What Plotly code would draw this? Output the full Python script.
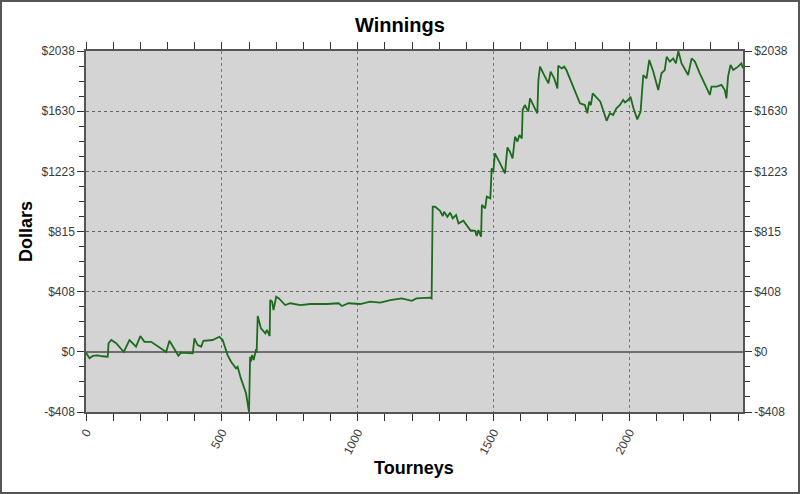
import plotly.graph_objects as go

tourneys = [0, 13, 25, 43, 60, 80, 83, 93, 111, 139, 160, 184, 200, 215, 240, 270, 295, 307, 319, 340,
            350, 393, 399, 411, 424, 432, 466, 491, 503, 521, 534, 552, 558, 570, 589, 600, 604, 607, 611, 617,
            626, 628, 632, 644, 660, 666, 676, 678, 685, 690, 700, 710, 733, 752, 789, 825, 887, 930, 942, 966,
            1009, 1046, 1083, 1120, 1162, 1199, 1216, 1267, 1272, 1276, 1285, 1303, 1313, 1318, 1330, 1340, 1350,
            1362, 1371, 1389, 1414, 1432, 1438, 1444, 1454, 1457, 1469, 1475, 1488, 1493, 1499, 1505, 1524, 1542,
            1551, 1560, 1570, 1579, 1588, 1595, 1604, 1607, 1615, 1628, 1634, 1646, 1661, 1665, 1671, 1683, 1702,
            1710, 1723, 1735, 1738, 1751, 1760, 1768, 1793, 1818, 1836, 1845, 1852, 1858, 1865, 1880, 1893, 1916,
            1928, 1940, 1952, 1965, 1977, 1984, 1995, 2004, 2014, 2029, 2041, 2051, 2063, 2073, 2088, 2106, 2118,
            2130, 2137, 2149, 2161, 2171, 2180, 2192, 2216, 2229, 2241, 2259, 2278, 2296, 2302, 2321, 2339, 2351,
            2357, 2363, 2372, 2382, 2400, 2412, 2418]
dollars = [-6, -44, -28, -24, -30, -33, 58, 80, 58, -1, 80, 35, 107, 68, 68, 30, -1, 75, 39, -26,
           -6, -10, 91, 46, 35, 75, 80, 102, 80, -22, -67, -112, -101, -180, -281, -408, -33, -67, -22, -55,
           17, -6, 243, 159, 125, 148, 107, 351, 340, 283, 373, 362, 317, 329, 317, 324, 324, 329, 310, 329,
           324, 340, 333, 351, 362, 346, 362, 367, 362, 983, 983, 956, 920, 949, 915, 943, 904,
           927, 870, 888, 825, 820, 784, 825, 780, 995, 972, 1051, 1040, 1243, 1220, 1345, 1277, 1209,
           1385, 1356, 1311, 1457, 1425, 1469, 1446, 1638, 1672, 1627, 1717, 1672, 1616, 1841, 1932, 1887, 1819,
           1898, 1853, 1785, 1938, 1920, 1932, 1909, 1796, 1683, 1672, 1616, 1695, 1672, 1751, 1717, 1695, 1565,
           1616, 1605, 1650, 1672, 1706, 1690, 1706, 1728, 1655, 1575, 1627, 1875, 1852, 1977, 1898, 1774, 1887,
           1909, 1999, 1966, 1988, 1954, 2038, 1954, 1875, 1988, 1966, 1887, 1808, 1740, 1796, 1796, 1808, 1774,
           1717, 1864, 1943, 1909, 1932, 1954, 1921]

y_tickvals = [-407.6, 0, 407.6, 815.2, 1222.8, 1630.4, 2038]
y_ticktext = ["-$408", "$0", "$408", "$815", "$1223", "$1630", "$2038"]
x_tickvals = [0, 500, 1000, 1500, 2000]
x_ticktext = ["0", "500", "1000", "1500", "2000"]

W, H = 800, 494
ML, MR, MT, MB = 86, 57, 51, 82
PW, PH = W - ML - MR, H - MT - MB

FONT = "Liberation Sans, Arial, sans-serif"
TICKCOL = "#3a3a3a"

fig = go.Figure()
fig.add_trace(go.Scatter(x=tourneys, y=dollars, mode="lines",
                         line=dict(color="#1d6b1d", width=1.8), showlegend=False, hoverinfo="x+y"))
fig.add_trace(go.Scatter(x=tourneys, y=dollars, mode="lines", yaxis="y2",
                         line=dict(color="rgba(0,0,0,0)", width=0), showlegend=False, hoverinfo="skip"))

yaxis_common = dict(
    range=[-407.6, 2038], tickmode="array", tickvals=y_tickvals, ticktext=y_ticktext,
    ticks="outside", ticklen=7, tickwidth=1, tickcolor="#333",
    tickfont=dict(family=FONT, size=12, color=TICKCOL),
    showline=True, linecolor="#555", linewidth=1.5,
    minor=dict(ticks="outside", ticklen=5, tickcolor="#333", tick0=0, dtick=101.9, showgrid=False),
    fixedrange=True,
)

fig.update_layout(
    width=W, height=H,
    margin=dict(l=ML, r=MR, t=MT, b=MB, pad=0),
    paper_bgcolor="white", plot_bgcolor="#d4d4d4",
    showlegend=False,
    xaxis=dict(
        range=[0, 2418], tickmode="array", tickvals=x_tickvals, ticktext=x_ticktext,
        tickangle=-62, ticks="outside", ticklen=7, tickcolor="#333",
        tickfont=dict(family=FONT, size=12, color=TICKCOL),
        showline=True, linecolor="#555", linewidth=1.5, mirror="allticks",
        showgrid=True, gridcolor="#777", griddash="dot", gridwidth=1,
        minor=dict(ticks="outside", ticklen=5, tickcolor="#333", tick0=0, dtick=100, showgrid=False),
        zeroline=False, fixedrange=True,
    ),
    yaxis=dict(**yaxis_common, side="left",
               showgrid=True, gridcolor="#666", griddash="dot", gridwidth=1,
               zeroline=True, zerolinecolor="#6e6e6e", zerolinewidth=1.6),
    yaxis2=dict(**yaxis_common, side="right", overlaying="y", showgrid=False, zeroline=False),
    annotations=[
        dict(text="<b>Winnings</b>", xref="paper", yref="paper",
             x=(400 - ML) / PW, y=(H - MB - 25) / PH, xanchor="center", yanchor="middle",
             showarrow=False, font=dict(family=FONT, size=20, color="black")),
        dict(text="<b>Dollars</b>", xref="paper", yref="paper",
             x=(26 - ML) / PW, y=(H - MB - 232) / PH, xanchor="center", yanchor="middle",
             textangle=-90, showarrow=False, font=dict(family=FONT, size=18, color="black")),
        dict(text="<b>Tourneys</b>", xref="paper", yref="paper",
             x=(414 - ML) / PW, y=(H - MB - 468) / PH, xanchor="center", yanchor="middle",
             showarrow=False, font=dict(family=FONT, size=18, color="black")),
    ],
    shapes=[
        dict(type="rect", xref="paper", yref="paper",
             x0=(1 - ML) / PW, x1=(W - 1 - ML) / PW,
             y0=(H - MB - (H - 1)) / PH, y1=(H - MB - 1) / PH,
             line=dict(color="#555", width=2), fillcolor="rgba(0,0,0,0)", layer="above"),
    ],
)

fig.write_html("out.html", config={"displayModeBar": False},
               post_script="document.body.style.margin='0';document.body.style.padding='0';")
